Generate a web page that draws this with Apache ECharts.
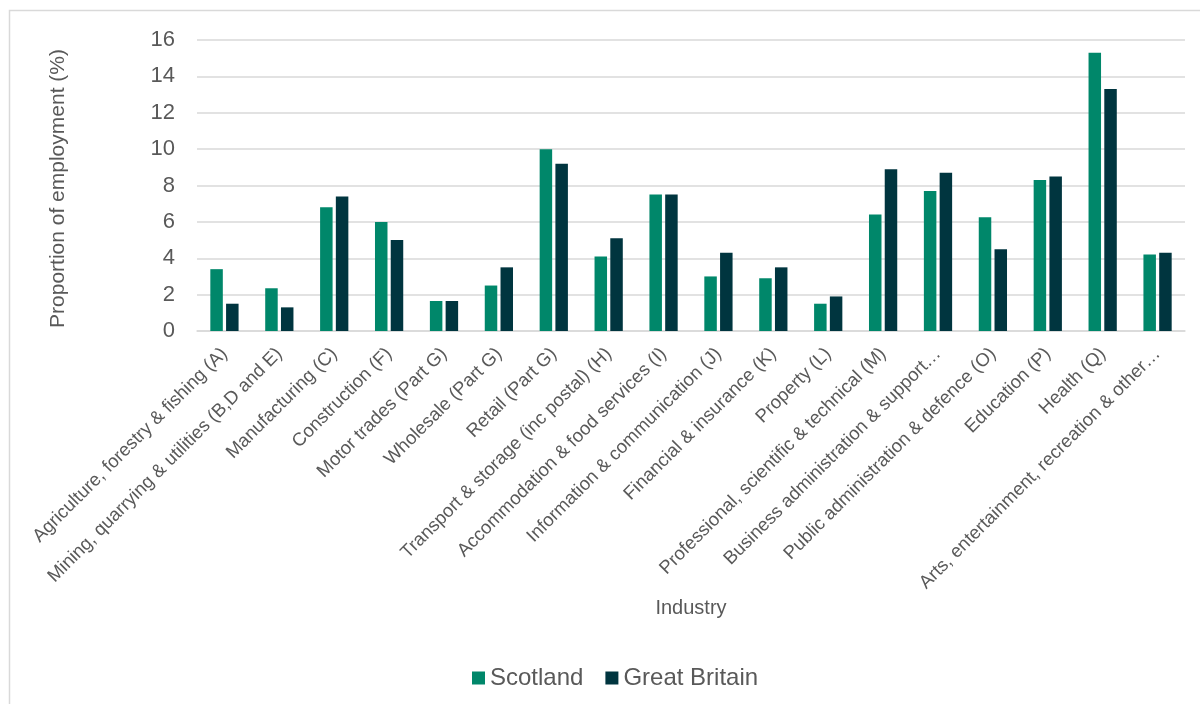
<!DOCTYPE html>
<html>
<head>
<meta charset="utf-8">
<script src="https://cdn.jsdelivr.net/npm/echarts@6/dist/echarts.min.js"></script>
<style>
  html, body { margin: 0; padding: 0; background: #fff; }
  #chart { width: 1200px; height: 704px; }
</style>
</head>
<body>
<div id="chart"></div>
<script>
const industries = [
  'Agriculture, forestry & fishing (A)',
  'Mining, quarrying & utilities (B,D and E)',
  'Manufacturing (C)',
  'Construction (F)',
  'Motor trades (Part G)',
  'Wholesale (Part G)',
  'Retail (Part G)',
  'Transport & storage (inc postal) (H)',
  'Accommodation & food services (I)',
  'Information & communication (J)',
  'Financial & insurance (K)',
  'Property (L)',
  'Professional, scientific & technical (M)',
  'Business administration & support…',
  'Public administration & defence (O)',
  'Education (P)',
  'Health (Q)',
  'Arts, entertainment, recreation & other…'
]
const scotland = [3.4, 2.35, 6.8, 6.0, 1.65, 2.5, 10.0, 4.1, 7.5, 3.0, 2.9, 1.5, 6.4, 7.7, 6.25, 8.3, 15.3, 4.2]
const greatBritain = [1.5, 1.3, 7.4, 5.0, 1.65, 3.5, 9.2, 5.1, 7.5, 4.3, 3.5, 1.9, 8.9, 8.7, 4.5, 8.5, 13.3, 4.3]
const yTicks = { min: 0, max: 16, step: 2 }

const font = 'Liberation Sans, Arial, sans-serif'
const textColor = '#595959'

const chart = echarts.init(document.getElementById('chart'))
chart.setOption({
  animation: false,
  textStyle: { fontFamily: font },
  graphic: [{
    type: 'rect',
    shape: { x: 9.5, y: 10.5, width: 1400, height: 900 },
    style: { fill: 'none', stroke: '#d9d9d9', lineWidth: 1.5 },
    silent: true
  }],
  legend: {
    data: ['Scotland', 'Great Britain'],
    left: 467,
    top: 661,
    itemWidth: 13,
    itemHeight: 13,
    itemGap: 22,
    icon: 'rect',
    textStyle: { fontSize: 24, color: textColor, fontFamily: font }
  },
  grid: {
    left: 197,
    right: 15,
    top: 40,
    bottom: 373,
    containLabel: false
  },
  xAxis: {
    type: 'category',
    data: industries,
    name: 'Industry',
    nameLocation: 'middle',
    nameGap: 267,
    nameTextStyle: { fontSize: 20, color: textColor, fontFamily: font },
    axisLine: { lineStyle: { color: '#d9d9d9', width: 1.5 } },
    axisTick: { show: false },
    axisLabel: {
      interval: 0,
      rotate: 45,
      margin: 20,
      fontSize: 18.5,
      color: textColor,
      fontFamily: font
    }
  },
  yAxis: {
    type: 'value',
    min: yTicks.min,
    max: yTicks.max,
    interval: yTicks.step,
    name: 'Proportion of employment (%)',
    nameLocation: 'middle',
    nameGap: 128,
    nameTextStyle: { fontSize: 21, color: textColor, fontFamily: font, padding: [0, 0, 0, -6] },
    axisLine: { show: false },
    axisTick: { show: false },
    axisLabel: { fontSize: 22, color: textColor, margin: 22, fontFamily: font },
    splitLine: { lineStyle: { color: '#d9d9d9', width: 1.5 } }
  },
  series: [
    {
      name: 'Scotland',
      type: 'bar',
      data: scotland,
      barWidth: 12.5,
      barGap: '26%',
      itemStyle: { color: '#00876a' }
    },
    {
      name: 'Great Britain',
      type: 'bar',
      data: greatBritain,
      barWidth: 12.5,
      itemStyle: { color: '#00353f' }
    }
  ]
})
</script>
</body>
</html>
